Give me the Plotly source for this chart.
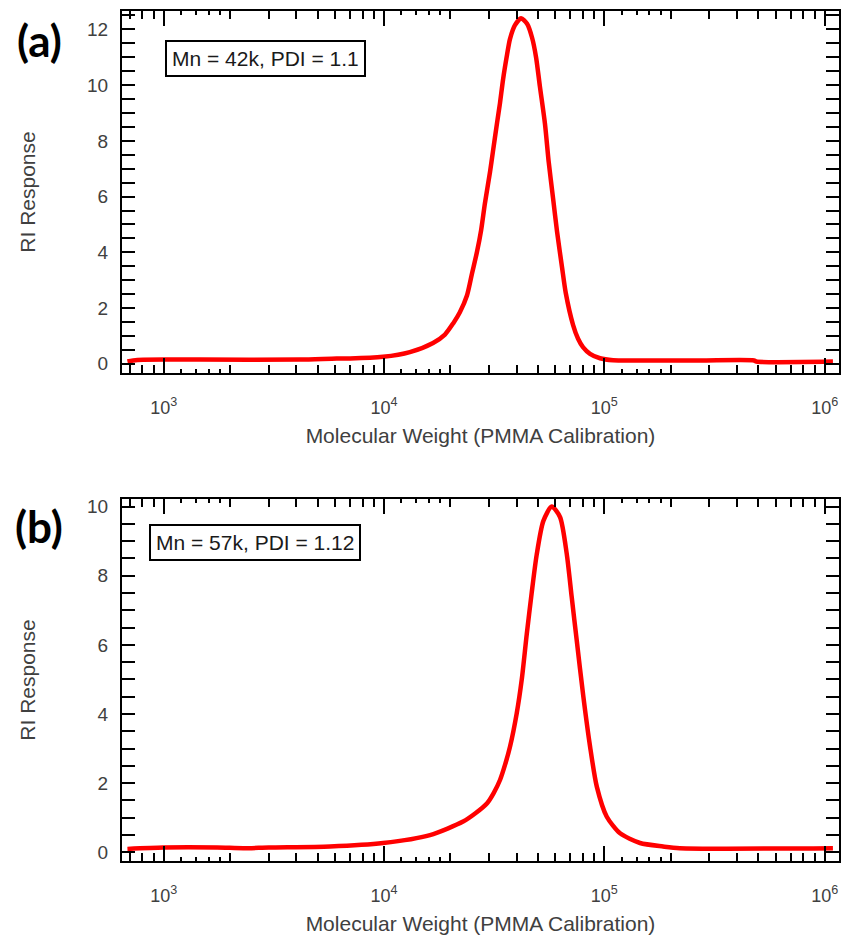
import plotly.graph_objects as go

# ---------------- data ----------------
mw_a = [685, 760, 1460, 4160, 6100, 7020, 9900, 13100, 16700, 18900, 20600, 22100,
        23800, 25100, 26400, 27600, 28700, 30300, 31200, 32600, 33600, 34700,
        36200, 37300, 39300, 41900, 44600, 47000, 49000, 51000, 53800, 55900,
        58500, 61000, 64300, 66800, 72100, 76000, 80000, 86100, 95600, 109600,
        135000, 272000, 478000, 490000, 1090000]
ri_a = [0.08, 0.14, 0.15, 0.15, 0.19, 0.19, 0.25, 0.42, 0.75, 1.05, 1.45, 1.85,
        2.45, 3.25, 4.0, 4.8, 5.75, 6.9, 7.6, 8.65, 9.35, 10.2,
        11.1, 11.65, 12.15, 12.4, 12.2, 11.7, 11.0, 9.95, 8.6, 7.25,
        5.95, 4.75, 3.45, 2.55, 1.4, 0.9, 0.6, 0.36, 0.2, 0.13,
        0.12, 0.12, 0.12, 0.08, 0.08]

mw_b = [685, 1000, 1750, 2300, 3000, 5690, 9900, 16170, 22860, 26000, 29380,
        31500, 33650, 35500, 37340, 40030, 42170, 44440, 46800, 49300, 52840,
        57690, 62920, 67460, 71090, 74910, 80330, 86150, 92430, 102600, 117900,
        145200, 184700, 220000, 1090000]
ri_b = [0.1, 0.14, 0.14, 0.12, 0.14, 0.17, 0.27, 0.5, 0.89, 1.13, 1.42,
        1.72, 2.1, 2.55, 3.06, 4.02, 4.99, 6.3, 7.5, 8.6, 9.58,
        10.0, 9.7, 8.65, 7.39, 6.14, 4.5, 3.06, 1.9, 1.03, 0.55,
        0.27, 0.17, 0.12, 0.12]

panel_labels = ["(a)", "(b)"]
box_texts = ["Mn = 42k, PDI = 1.1", "Mn = 57k, PDI = 1.12"]
x_tick_vals = [1e3, 1e4, 1e5, 1e6]
x_tick_text = ["10<sup>3</sup>", "10<sup>4</sup>", "10<sup>5</sup>", "10<sup>6</sup>"]
x_title = "Molecular Weight (PMMA Calibration)"
y_title = "RI Response"

# ---------------- styling / layout ----------------
W, H = 844, 942
FONT = "Arial, Liberation Sans, sans-serif"
TXT = "#404040"


def px_x(v):
    return v / W


def px_y(v):
    return 1 - v / H


medium_ticks = [700, 800, 900] + [k * 10 ** e for e in (3, 4, 5) for k in range(2, 10)]
small_ticks = [f * 10 ** e for e in (3, 4, 5) for f in (1.2, 1.4, 1.6, 1.8)]

x_dom = [px_x(122), px_x(839)]
y_doms = [[px_y(373), px_y(11)], [px_y(861), px_y(499)]]
y_ranges = [[-0.33, 12.66], [-0.25, 10.22]]
x_range = [2.811, 6.065]

fig = go.Figure()
for i, (mw, ri) in enumerate([(mw_a, ri_a), (mw_b, ri_b)]):
    n = i + 1
    fig.add_trace(go.Scatter(
        x=mw, y=ri, mode="lines",
        line=dict(color="#ff0000", width=4.5, shape="spline", smoothing=0.7),
        xaxis=f"x{n}" if n > 1 else "x", yaxis=f"y{n}" if n > 1 else "y",
        showlegend=False, hoverinfo="skip"))

layout = dict(width=W, height=H, margin=dict(l=0, r=0, t=0, b=0),
              paper_bgcolor="white", plot_bgcolor="white", showlegend=False,
              font=dict(family=FONT, color=TXT), hovermode=False)

for i in range(2):
    n = i + 1
    xk = "xaxis" if n == 1 else f"xaxis{n}"
    yk = "yaxis" if n == 1 else f"yaxis{n}"
    ya = "y" if n == 1 else f"y{n}"
    xa = "x" if n == 1 else f"x{n}"
    layout[xk] = dict(
        domain=x_dom, anchor=ya, type="log", range=x_range,
        tickmode="array", tickvals=x_tick_vals, ticktext=x_tick_text,
        ticks="inside", ticklen=15, tickwidth=2, tickcolor="black",
        showline=True, linewidth=2, linecolor="black", mirror="allticks",
        showgrid=False, zeroline=False, automargin=False,
        tickfont=dict(size=18, color=TXT, family=FONT), ticklabelstandoff=17,
        minor=dict(ticks="inside", ticklen=8, tickwidth=2, tickcolor="black",
                   tickmode="array", tickvals=medium_ticks, showgrid=False),
        title=dict(text=x_title, font=dict(size=21, color=TXT, family=FONT), standoff=12),
    )
    layout[yk] = dict(
        domain=y_doms[i], anchor=xa, range=y_ranges[i],
        tickmode="linear", tick0=0, dtick=2,
        ticks="inside", ticklen=13, tickwidth=2, tickcolor="black",
        showline=True, linewidth=2, linecolor="black", mirror="allticks",
        showgrid=False, zeroline=False, automargin=False,
        tickfont=dict(size=19, color=TXT, family=FONT), ticklabelstandoff=8,
        minor=dict(ticks="inside", ticklen=7, tickwidth=2, tickcolor="black",
                   dtick=0.5, tick0=0, showgrid=False),
        title=dict(text=y_title, font=dict(size=21, color=TXT, family=FONT), standoff=46),
    )

# overlay axes carrying the smallest log ticks (1.2 .. 1.8 x decade)
for i in range(2):
    n = i + 3
    ya = "y" if i == 0 else "y2"
    base = "x" if i == 0 else "x2"
    layout[f"xaxis{n}"] = dict(
        overlaying=base, anchor=ya, type="log", range=x_range,
        tickmode="array", tickvals=small_ticks, ticks="inside", ticklen=4,
        tickwidth=2, tickcolor="black", mirror="allticks", showline=False,
        showticklabels=False, showgrid=False, zeroline=False)
    fig.add_trace(go.Scatter(x=[], y=[], xaxis=f"x{n}", yaxis=ya,
                             showlegend=False, hoverinfo="skip"))

fig.update_layout(**layout)

label_pos = [(px_x(39), px_y(40)), (px_x(39), px_y(526))]
box_pos = [(px_x(265), px_y(58.5)), (px_x(254.5), px_y(542.5))]
for i in range(2):
    fig.add_annotation(text=f"<b>{panel_labels[i]}</b>", xref="paper", yref="paper",
                       x=label_pos[i][0], y=label_pos[i][1], showarrow=False,
                       xanchor="center", yanchor="middle",
                       font=dict(family="Lato, Open Sans, sans-serif", size=44, color="black"))
    fig.add_annotation(text=box_texts[i], xref="paper", yref="paper",
                       x=box_pos[i][0], y=box_pos[i][1], showarrow=False,
                       xanchor="center", yanchor="middle",
                       font=dict(family=FONT, size=21, color="#1a1a1a"),
                       bordercolor="black", borderwidth=2, borderpad=5, bgcolor="white")

fig.write_html("out.html", config={"displayModeBar": False, "staticPlot": True},
               post_script="document.body.style.margin='0';document.body.style.overflow='hidden';")
